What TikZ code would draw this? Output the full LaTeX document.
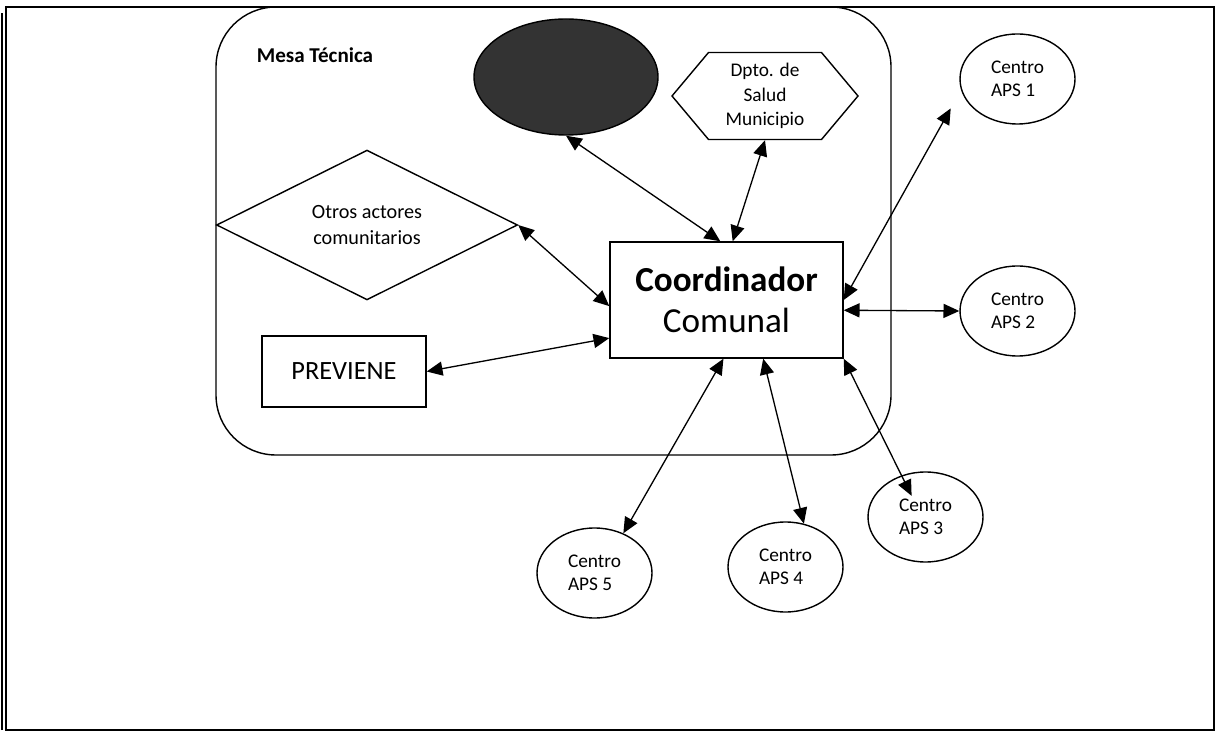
\documentclass[tikz,border=0pt]{standalone}
\usepackage{fontspec}
\setmainfont{Carlito}
\usetikzlibrary{shapes.geometric,shapes.symbols,arrows.meta}

\begin{document}
\begin{tikzpicture}[
  caja/.style={draw,line width=0.8pt,inner sep=0pt},
  centro/.style={draw,ellipse,line width=0.8pt,minimum width=2.3cm,minimum height=1.8cm,
    align=left,inner sep=0pt,font=\fontsize{11}{13}\selectfont},
  enlace/.style={line width=0.75pt,{Triangle[length=9pt,width=8pt]}-{Triangle[length=9pt,width=8pt]}}
]
\useasboundingbox (0,0) rectangle (24.4,14.66);
\draw[line width=1pt] (0.12,0.06) rectangle (24.28,14.52);
\draw[line width=0.8pt] (0.04,0.06) -- (0.04,14.4);
\draw[line width=0.8pt,rounded corners=1.2cm] (4.32,5.56) rectangle (17.82,14.52);
\node[font=\bfseries\fontsize{12}{14}\selectfont] (mesa) at (6.3,13.56) {Mesa Técnica};
\node[caja,ellipse,fill=black!80,minimum width=3.68cm,minimum height=2.32cm] (gabinete) at (11.32,13.12) {};
\node[caja,signal,signal to=west and east,signal pointer angle=100,minimum width=3.72cm,
  minimum height=1.74cm,align=center,font=\fontsize{11}{14}\selectfont] (dpto) at (15.3,12.74) {Dpto. de\\Salud\\Municipio};
\node[caja,diamond,minimum width=6.02cm,minimum height=2.24cm,align=center,
  font=\fontsize{11.5}{15}\selectfont] (otros) at (7.34,10.16) {Otros actores\\comunitarios};
\node[caja,minimum width=4.66cm,minimum height=2.32cm,align=center,
  font=\fontsize{20}{23}\selectfont] (coord) at (14.53,8.66) {\textbf{Coordinador}\\Comunal};
\node[caja,minimum width=3.28cm,minimum height=1.42cm,font=\fontsize{15}{18}\selectfont] (prev) at (6.88,7.23) {PREVIENE};
\node[centro] (aps1) at (20.35,13.08) {Centro\\APS 1};
\node[centro] (aps2) at (20.35,8.44) {Centro\\APS 2};
\node[centro] (aps3) at (18.51,4.32) {Centro\\APS 3};
\node[centro] (aps4) at (15.71,3.32) {Centro\\APS 4};
\node[centro] (aps5) at (11.89,3.2) {Centro\\APS 5};
\draw[enlace] (gabinete.south) -- (coord.96);
\draw[enlace] (dpto.south) -- (coord.84);
\draw[enlace] (otros.east) -- (coord.183);
\draw[enlace] (prev.east) -- (coord.198);
\draw[enlace,shorten <=12pt] (aps1.191) -- (coord.east);
\draw[enlace] (aps2.west) -- (coord.355);
\draw[enlace,shorten <=-13pt] (aps3.120) -- (coord.south east);
\draw[enlace] (aps4.67) -- (coord.302);
\draw[enlace] (aps5.54) -- (coord.267);
\end{tikzpicture}
\end{document}
